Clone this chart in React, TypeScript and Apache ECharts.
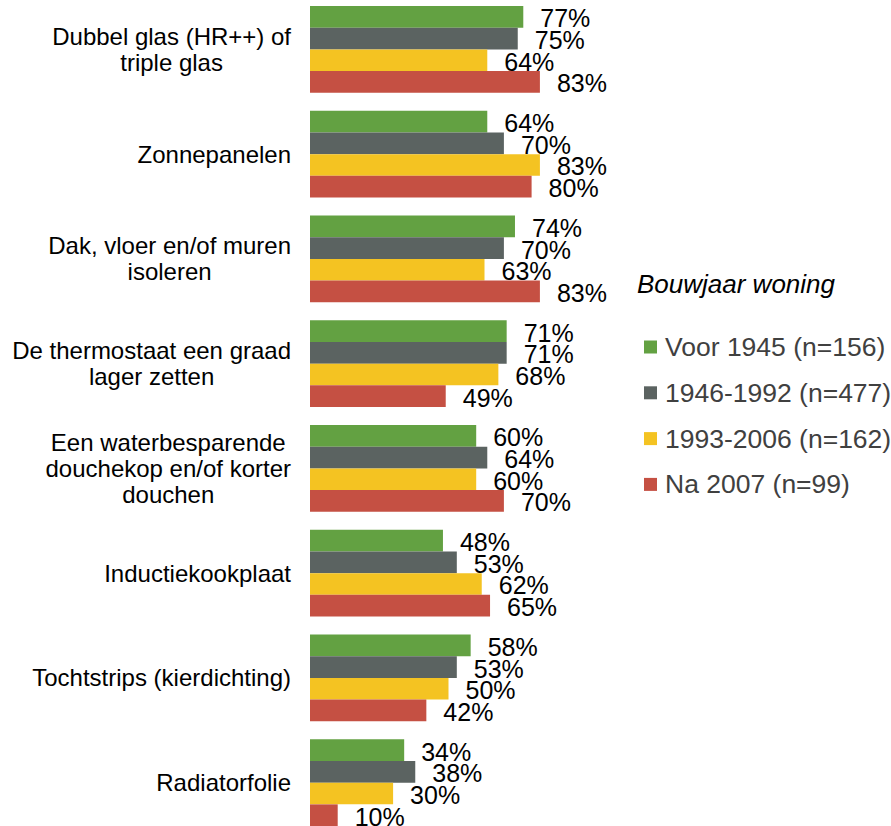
import React, { useEffect, useRef } from "react";
import * as echarts from "echarts";

const categories: string[] = [
  "Dubbel glas (HR++) of\ntriple glas",
  "Zonnepanelen",
  "Dak, vloer en/of muren\nisoleren",
  "De thermostaat een graad\nlager zetten",
  "Een waterbesparende\ndouchekop en/of korter\ndouchen",
  "Inductiekookplaat",
  "Tochtstrips (kierdichting)",
  "Radiatorfolie",
];

const seriesNames: string[] = [
  "Voor 1945 (n=156)",
  "1946-1992 (n=477)",
  "1993-2006 (n=162)",
  "Na 2007 (n=99)",
];

const voor1945: number[] = [77, 64, 74, 71, 60, 48, 58, 34];
const p1946_1992: number[] = [75, 70, 70, 71, 64, 53, 53, 38];
const p1993_2006: number[] = [64, 83, 63, 68, 60, 62, 50, 30];
const na2007: number[] = [83, 80, 83, 49, 70, 65, 42, 10];

const colors: string[] = ["#63A142", "#5B6361", "#F4C322", "#C55043"];

const FONT = "'Liberation Sans', Arial, Helvetica, sans-serif";

export default function App() {
  const ref = useRef<HTMLDivElement>(null);

  useEffect(() => {
    if (!ref.current) return;
    const chart = echarts.init(ref.current, null, { renderer: "svg" });
    const data = [voor1945, p1946_1992, p1993_2006, na2007];
    chart.setOption({
      animation: false,
      backgroundColor: "#ffffff",
      title: {
        text: "Bouwjaar woning",
        left: 632,
        top: 269,
        textStyle: {
          fontFamily: FONT,
          fontStyle: "italic",
          fontWeight: "normal",
          fontSize: 26,
          color: "#000000",
        },
      },
      legend: {
        orient: "vertical",
        left: 639,
        top: 330,
        icon: "rect",
        itemWidth: 13,
        itemHeight: 13,
        itemGap: 15.8,
        itemStyle: { borderWidth: 0 },
        data: seriesNames,
        textStyle: {
          fontFamily: FONT,
          fontSize: 26.5,
          lineHeight: 30,
          color: "#404040",
          padding: [0, 0, 0, 3],
        },
      },
      grid: {
        left: 310,
        top: 0,
        width: 277,
        height: 838,
        containLabel: false,
      },
      xAxis: {
        type: "value",
        min: 0,
        max: 100,
        show: false,
      },
      yAxis: {
        type: "category",
        inverse: true,
        data: categories,
        axisLine: { show: false },
        axisTick: { show: false },
        splitLine: { show: false },
        axisLabel: {
          margin: 19,
          align: "right",
          formatter: (v: string) => `{a|${v}}`,
          rich: {
            a: {
              align: "center",
              fontFamily: FONT,
              fontSize: 24,
              lineHeight: 26,
              color: "#000000",
            },
          },
        },
      },
      series: seriesNames.map((name, i) => ({
        name,
        type: "bar",
        data: data[i],
        barGap: "0%",
        barCategoryGap: "17%",
        itemStyle: { color: colors[i] },
        label: {
          show: true,
          position: "right",
          distance: 17,
          offset: [0, 1.5],
          formatter: "{c}%",
          fontFamily: FONT,
          fontSize: 25,
          color: "#000000",
        },
      })),
    });
    return () => chart.dispose();
  }, []);

  return (
    <div
      ref={ref}
      style={{ position: "fixed", left: 0, top: -3, width: 891, height: 850 }}
    />
  );
}
